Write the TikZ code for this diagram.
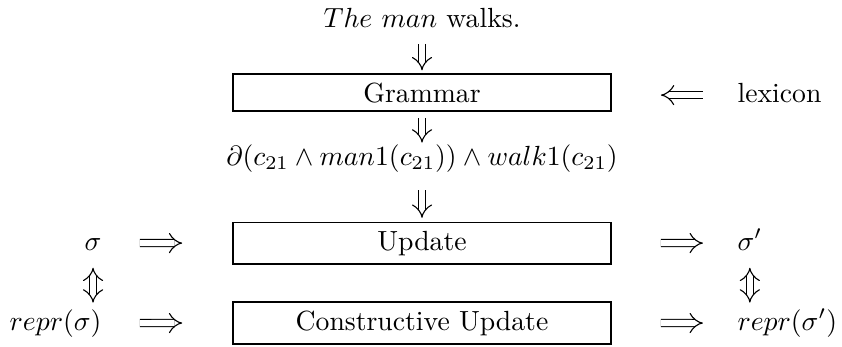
\documentclass[tikz,border=0pt]{standalone}
\usepackage{amsmath, amssymb}
\usepackage{tikz}
\usetikzlibrary{arrows.meta}

\tikzset{
    khung/.style={draw, line width=0.6pt, inner sep=3pt, minimum width=136.5pt, anchor=base},
    nhan/.style={inner sep=0pt, text height=7pt, text depth=2pt},
    kep/.style={double, double distance=2.2pt, line width=0.4pt}
}

\begin{document}
\begin{tikzpicture}[>={Implies}, x=0.361pt, y=-0.361pt]
    \useasboundingbox (0,0) rectangle (842,346);
    % 1. Cột giữa
    \node[inner sep=0pt, anchor=base] (cau) at (422,27) {$The$ $man$ walks.};
    \node[khung] (gram) at (422,102) {Grammar};
    \node[inner sep=0pt, anchor=base] (ct) at (422,165)
        {$\partial(c_{21} \wedge man1(c_{21})) \wedge walk1(c_{21})$};
    \node[khung] (upd) at (422,250) {Update};
    \node[khung] (cupd) at (422,330) {Constructive Update};

    % 2. Hai bên
    \node[nhan, anchor=base west] (lex) at (737,102) {lexicon};
    \node[nhan, anchor=base east] (sig) at (102,250) {$\sigma$};
    \node[nhan, anchor=base east] (rsig) at (102,330) {$repr(\sigma)$};
    \node[nhan, anchor=base west] (sigp) at (737,250) {$\sigma'$};
    \node[nhan, anchor=base west] (rsigp) at (737,330) {$repr(\sigma')$};

    % 3. Mũi tên
    \draw[kep, ->, shorten <=5.8pt, shorten >=1.1pt] (cau) -- (gram);
    \draw[kep, ->, shorten <=2.2pt, shorten >=0.4pt] (gram) -- (ct);
    \draw[kep, ->, shorten <=6.5pt, shorten >=1.4pt] (ct) -- (upd);
    \draw[kep, ->, shorten <=12.3pt, shorten >=17.7pt] (lex) -- (gram.east |- lex);
    \draw[kep, ->, shorten <=13.7pt, shorten >=18pt] (sig) -- (upd);
    \draw[kep, ->, shorten <=17.7pt, shorten >=12.3pt] (upd) -- (sigp);
    \draw[kep, ->, shorten <=13.7pt, shorten >=18pt] (rsig) -- (cupd);
    \draw[kep, ->, shorten <=17.7pt, shorten >=12.3pt] (cupd) -- (rsigp);
    \draw[kep, <->, shorten <=4.2pt, shorten >=2.7pt] (sig) -- (sig |- rsig.north);
    \draw[kep, <->, shorten <=4.2pt, shorten >=2.7pt] (sigp) -- (sigp |- rsigp.north);
\end{tikzpicture}
\end{document}
